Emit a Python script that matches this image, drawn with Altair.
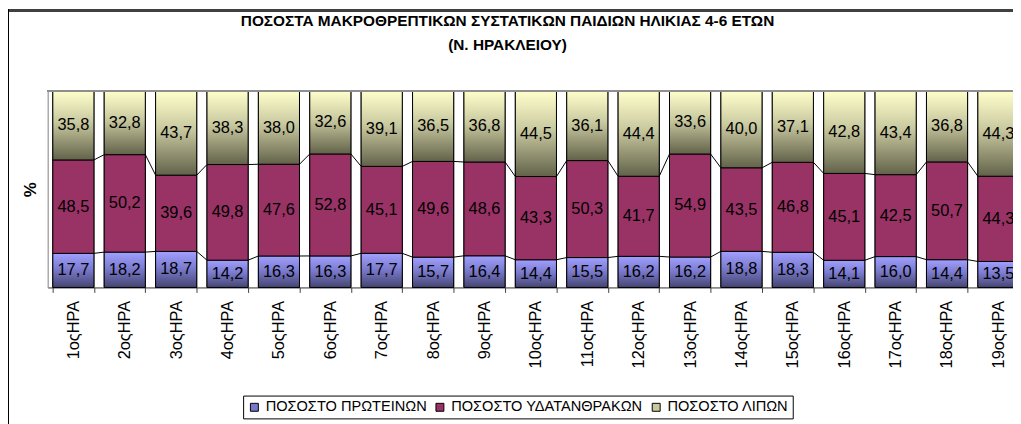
import altair as alt
import pandas as pd

categories = ["1οςΗΡΑ", "2οςΗΡΑ", "3οςΗΡΑ", "4οςΗΡΑ", "5οςΗΡΑ", "6οςΗΡΑ", "7οςΗΡΑ",
              "8οςΗΡΑ", "9οςΗΡΑ", "10οςΗΡΑ", "11οςΗΡΑ", "12οςΗΡΑ", "13οςΗΡΑ",
              "14οςΗΡΑ", "15οςΗΡΑ", "16οςΗΡΑ", "17οςΗΡΑ", "18οςΗΡΑ", "19οςΗΡΑ"]
series = ["ΠΟΣΟΣΤΟ ΠΡΩΤΕΙΝΩΝ", "ΠΟΣΟΣΤΟ ΥΔΑΤΑΝΘΡΑΚΩΝ", "ΠΟΣΟΣΤΟ ΛΙΠΩΝ"]
protein = [17.7, 18.2, 18.7, 14.2, 16.3, 16.3, 17.7, 15.7, 16.4, 14.4, 15.5, 16.2,
           16.2, 18.8, 18.3, 14.1, 16.0, 14.4, 13.5]
carbs = [48.5, 50.2, 39.6, 49.8, 47.6, 52.8, 45.1, 49.6, 48.6, 43.3, 50.3, 41.7,
         54.9, 43.5, 46.8, 45.1, 42.5, 50.7, 44.3]
fats = [35.8, 32.8, 43.7, 38.3, 38.0, 32.6, 39.1, 36.5, 36.8, 44.5, 36.1, 44.4,
        33.6, 40.0, 37.1, 42.8, 43.4, 36.8, 44.3]
title_lines = ["ΠΟΣΟΣΤΑ ΜΑΚΡΟΘΡΕΠΤΙΚΩΝ ΣΥΣΤΑΤΙΚΩΝ ΠΑΙΔΙΩΝ ΗΛΙΚΙΑΣ 4-6 ΕΤΩΝ",
               "(Ν. ΗΡΑΚΛΕΙΟΥ)"]

# --- build tables (100% stacked, as the spreadsheet normalises) ---
rows = []
cums = []
for i, c in enumerate(categories):
    vals = [protein[i], carbs[i], fats[i]]
    tot = sum(vals)
    acc = 0.0
    bounds = []
    for s, v in zip(series, vals):
        y0 = acc / tot
        acc += v
        y1 = acc / tot
        bounds.append(y1)
        rows.append({"cat": c, "series": s, "value": v, "y0": y0, "y1": y1,
                     "ymid": (y0 + y1) / 2,
                     "label": f"{v:.1f}".replace(".", ",")})
    cums.append(bounds)
df = pd.DataFrame(rows)

lines = []
for i in range(len(categories) - 1):
    for k in range(2):
        lines.append({"cat": categories[i], "next_cat": categories[i + 1],
                      "ya": cums[i][k], "yb": cums[i + 1][k]})
ldf = pd.DataFrame(lines)

FONT = "Liberation Sans"
W, H = 973, 198
STEP = 51.8

xscale = alt.Scale(domain=categories, range=[0, STEP * len(categories)],
                   paddingInner=0.2, paddingOuter=0.1)
xaxis = alt.Axis(title=None, labelAngle=-90, labelFont=FONT, labelFontSize=16.5,
                 labelColor="black", labelPadding=8, tickBand="extent",
                 tickSize=5, tickColor="#404040", domainColor="#404040",
                 labelAlign="right", labelBaseline="middle")
yscale = alt.Scale(domain=[0, 1])
yaxis = alt.Axis(title="%", labels=False, ticks=False, grid=False,
                 domainColor="#909090", titleFont=FONT, titleFontSize=17,
                 titleFontWeight="bold", titleColor="black", titlePadding=8)

x = alt.X("cat:N", sort=categories, scale=xscale, axis=xaxis)
y = alt.Y("y0:Q", scale=yscale, axis=yaxis)

base = alt.Chart(df).mark_bar(stroke="black", strokeWidth=1).encode(
    x=x, y=y, y2="y1:Q",
    color=alt.Color("series:N", sort=series,
                    scale=alt.Scale(domain=series,
                                    range=["#7777CC", "#993366", "#C8C8A0"]),
                    legend=alt.Legend(orient="none", legendX=197, legendY=307,
                                      direction="horizontal", columns=3,
                                      title=None, labelFont=FONT,
                                      labelFontSize=14.7, labelColor="black",
                                      symbolType="square", symbolSize=64,
                                      symbolStrokeColor="black",
                                      symbolStrokeWidth=1, labelOffset=4,
                                      columnPadding=6, padding=4,
                                      strokeColor="black", fillColor="white",
                                      labelLimit=400)))

grads = {
    series[0]: alt.Gradient(gradient="linear", x1=0, x2=0, y1=0, y2=1, stops=[
        alt.GradientStop(color="#A0A0FF", offset=0),
        alt.GradientStop(color="#7C7CD0", offset=0.45),
        alt.GradientStop(color="#454572", offset=1)]),
    series[1]: alt.Gradient(gradient="linear", x1=0, x2=0, y1=0, y2=1, stops=[
        alt.GradientStop(color="#993366", offset=0),
        alt.GradientStop(color="#993366", offset=1)]),
    series[2]: alt.Gradient(gradient="linear", x1=0, x2=0, y1=0, y2=1, stops=[
        alt.GradientStop(color="#FFFFCC", offset=0),
        alt.GradientStop(color="#C9C9A0", offset=0.45),
        alt.GradientStop(color="#62624A", offset=1)]),
}

grad_layers = []
for s in series:
    grad_layers.append(
        alt.Chart(df).transform_filter(alt.datum.series == s)
        .mark_bar(color=grads[s], stroke="black", strokeWidth=1)
        .encode(x=x, y=y, y2="y1:Q"))

slines = alt.Chart(ldf).mark_rule(color="black", strokeWidth=1).encode(
    x=alt.X("cat:N", sort=categories, scale=xscale, axis=xaxis, bandPosition=1),
    x2=alt.X2("next_cat", bandPosition=0),
    y=alt.Y("ya:Q", scale=yscale, axis=yaxis), y2="yb:Q")

texts = alt.Chart(df).mark_text(font=FONT, fontSize=16.5, color="black",
                                baseline="middle", align="center").encode(
    x=x, y=alt.Y("ymid:Q", scale=yscale, axis=yaxis), text="label:N")

topline = alt.Chart(df).mark_rule(color="#909090", strokeWidth=1).encode(
    y=alt.datum(1, scale=yscale), x=alt.value(0), x2=alt.value(W))

frame_top = alt.Chart(df).mark_rule(color="#404040", strokeWidth=2).encode(
    y=alt.value(-81), x=alt.value(-40), x2=alt.value(W))
frame_left = alt.Chart(df).mark_rule(color="black", strokeWidth=1).encode(
    x=alt.value(-39.5), y=alt.value(-82), y2=alt.value(H + 140))

chart = alt.layer(base, *grad_layers, slines, texts, topline, frame_top,
                  frame_left).properties(
    width=W, height=H,
    title=alt.TitleParams(text=title_lines, font=FONT, fontSize=15.5,
                          fontWeight="bold", color="black", anchor="middle",
                          frame="group", dx=-23, dy=45, offset=0,
                          lineHeight=25),
    autosize=alt.AutoSizeParams(type="none"),
    padding={"left": 40, "top": 82, "right": 0, "bottom": 136},
).configure_view(strokeWidth=0).configure(background="white")

chart.save("out.html", embed_options={"renderer": "svg", "actions": False})
